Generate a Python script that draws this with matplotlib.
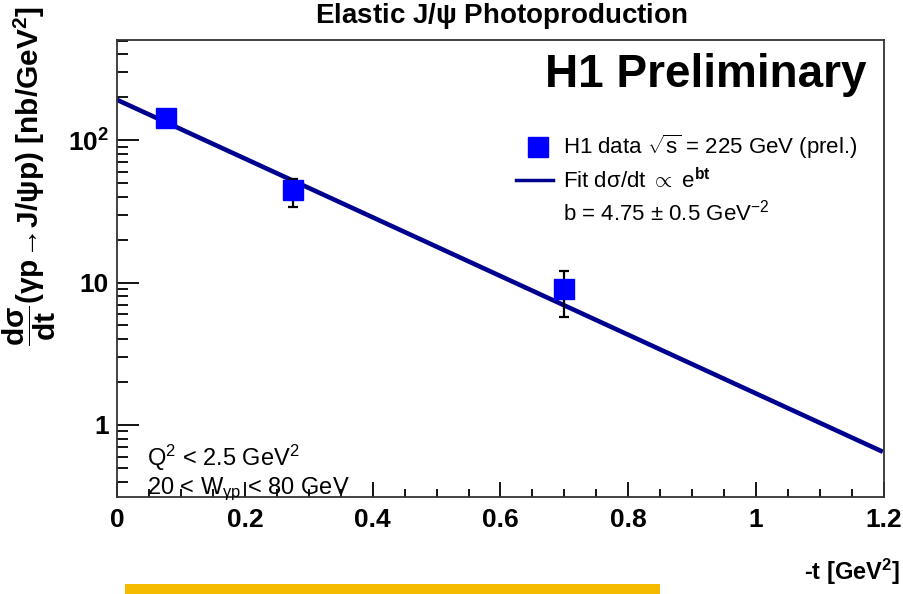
import numpy as np
import matplotlib
matplotlib.use("Agg")
import matplotlib.pyplot as plt
from matplotlib.patches import Rectangle
from matplotlib.ticker import FixedLocator, MultipleLocator, LogLocator, NullFormatter

plt.rcParams['font.family'] = ['Liberation Sans', 'DejaVu Sans']
plt.rcParams['mathtext.fontset'] = 'custom'
plt.rcParams['mathtext.rm'] = 'Liberation Sans'
plt.rcParams['mathtext.it'] = 'Liberation Sans'
plt.rcParams['mathtext.bf'] = 'Liberation Sans:bold'

# data
t_vals = [0.077, 0.276, 0.700]
xsec = [144.0, 44.6, 9.0]
err_lo = [0.0, 10.6, 3.25]
err_hi = [0.0, 8.5, 3.0]
fit_A = 192.0
fit_b = 4.75
x_ticks = [0, 0.2, 0.4, 0.6, 0.8, 1, 1.2]
x_ticklabels = ['0', '0.2', '0.4', '0.6', '0.8', '1', '1.2']
y_ticks = [1, 10, 100]
y_ticklabels = ['1', '10', r'$\mathbf{10^{2}}$']

W, H = 904, 594
fig = plt.figure(figsize=(W / 100, H / 100), dpi=100)
ax = fig.add_axes([117 / W, (H - 497) / H, 767 / W, 457 / H])

tfit = np.linspace(0, 1.195, 200)
ax.plot(tfit, fit_A * np.exp(-fit_b * tfit), color='#00008f', lw=3.3, zorder=2)
ax.errorbar(t_vals, xsec, yerr=[err_lo, err_hi], fmt='none', ecolor='black',
            elinewidth=1.6, capsize=3.5, capthick=1.6, zorder=3)
ax.plot(t_vals, xsec, 's', color='#0000ff', markersize=14.5, mec='#0000ff', zorder=4, lw=0)

ax.set_yscale('log')
ax.set_xlim(0, 1.2)
ax.set_ylim(0.312, 505)

ax.xaxis.set_major_locator(FixedLocator(x_ticks))
ax.set_xticklabels(x_ticklabels)
ax.xaxis.set_minor_locator(MultipleLocator(0.05))
ax.yaxis.set_major_locator(FixedLocator(y_ticks))
ax.set_yticklabels(y_ticklabels)
ax.yaxis.set_minor_locator(LogLocator(base=10, subs=np.arange(2, 10)))
ax.yaxis.set_minor_formatter(NullFormatter())

ax.tick_params(axis='both', which='both', direction='in', top=False, right=False)
ax.tick_params(axis='x', which='major', length=11, width=1.3, labelsize=19, pad=8)
ax.tick_params(axis='x', which='minor', length=5.5, width=1.3)
ax.tick_params(axis='y', which='major', length=16, width=1.3, labelsize=19, pad=6)
ax.tick_params(axis='y', which='minor', length=8, width=1.3)
for lab in ax.get_xticklabels() + ax.get_yticklabels():
    lab.set_fontweight('bold')
for s in ax.spines.values():
    s.set_linewidth(1.3)
    s.set_color('#333333')

# title
fig.text(501 / W, 1 - 16 / H, r'Elastic J/$\mathbf{\psi}$ Photoproduction', ha='center', va='center',
         fontsize=20, fontweight='bold')

# axis titles
fig.text(900 / W, 1 - 572 / H, r'-t [GeV$\mathbf{^{2}}$]', ha='right', va='center',
         fontsize=17, fontweight='bold')
fig.text(29 / W, 1 - 6 / H,
         r'$\mathbf{\dfrac{d\sigma}{dt}(\gamma p\!\rightarrow\! J/\psi p)\ [nb/GeV^{2}]}$',
         rotation=90, ha='center', va='top', fontsize=21.5)

# H1 Preliminary
fig.text(867 / W, 1 - 75 / H, 'H1 Preliminary', ha='right', va='center',
         fontsize=33, fontweight='bold')

# legend
ax_tr = fig.transFigure
fig.add_artist(Rectangle(((538 - 10) / W, 1 - (147 + 10) / H), 20 / W, 20 / H,
                         transform=ax_tr, color='#0000ff'))
fig.text(563 / W, 1 - 147 / H, r'H1 data $\sqrt{\mathrm{s}}$ = 225 GeV (prel.)', ha='left', va='center', fontsize=16)
fig.add_artist(plt.Line2D([516 / W, 553 / W], [1 - 180 / H, 1 - 180 / H], transform=ax_tr,
                          color='#00008f', lw=2.5))
fig.text(563 / W, 1 - 181 / H, r'Fit d$\sigma$/dt $\propto$ e$^{\mathbf{bt}}$', ha='left', va='center', fontsize=16)
fig.text(563 / W, 1 - 213 / H, r'b = 4.75 $\pm$ 0.5 GeV$^{-2}$', ha='left', va='center', fontsize=16)

# conditions
fig.text(147 / W, 1 - 458 / H, r'Q$^{2}$ < 2.5 GeV$^{2}$', ha='left', va='center', fontsize=17)
fig.text(147 / W, 1 - 489 / H, r'20 < W$_{\gamma p}$ < 80 GeV', ha='left', va='center', fontsize=17)

# yellow bar
fig.add_artist(Rectangle((125 / W, 0), 535 / W, 10 / H, transform=ax_tr, color='#f5bb00', lw=0))

fig.savefig('out.png', dpi=100)
